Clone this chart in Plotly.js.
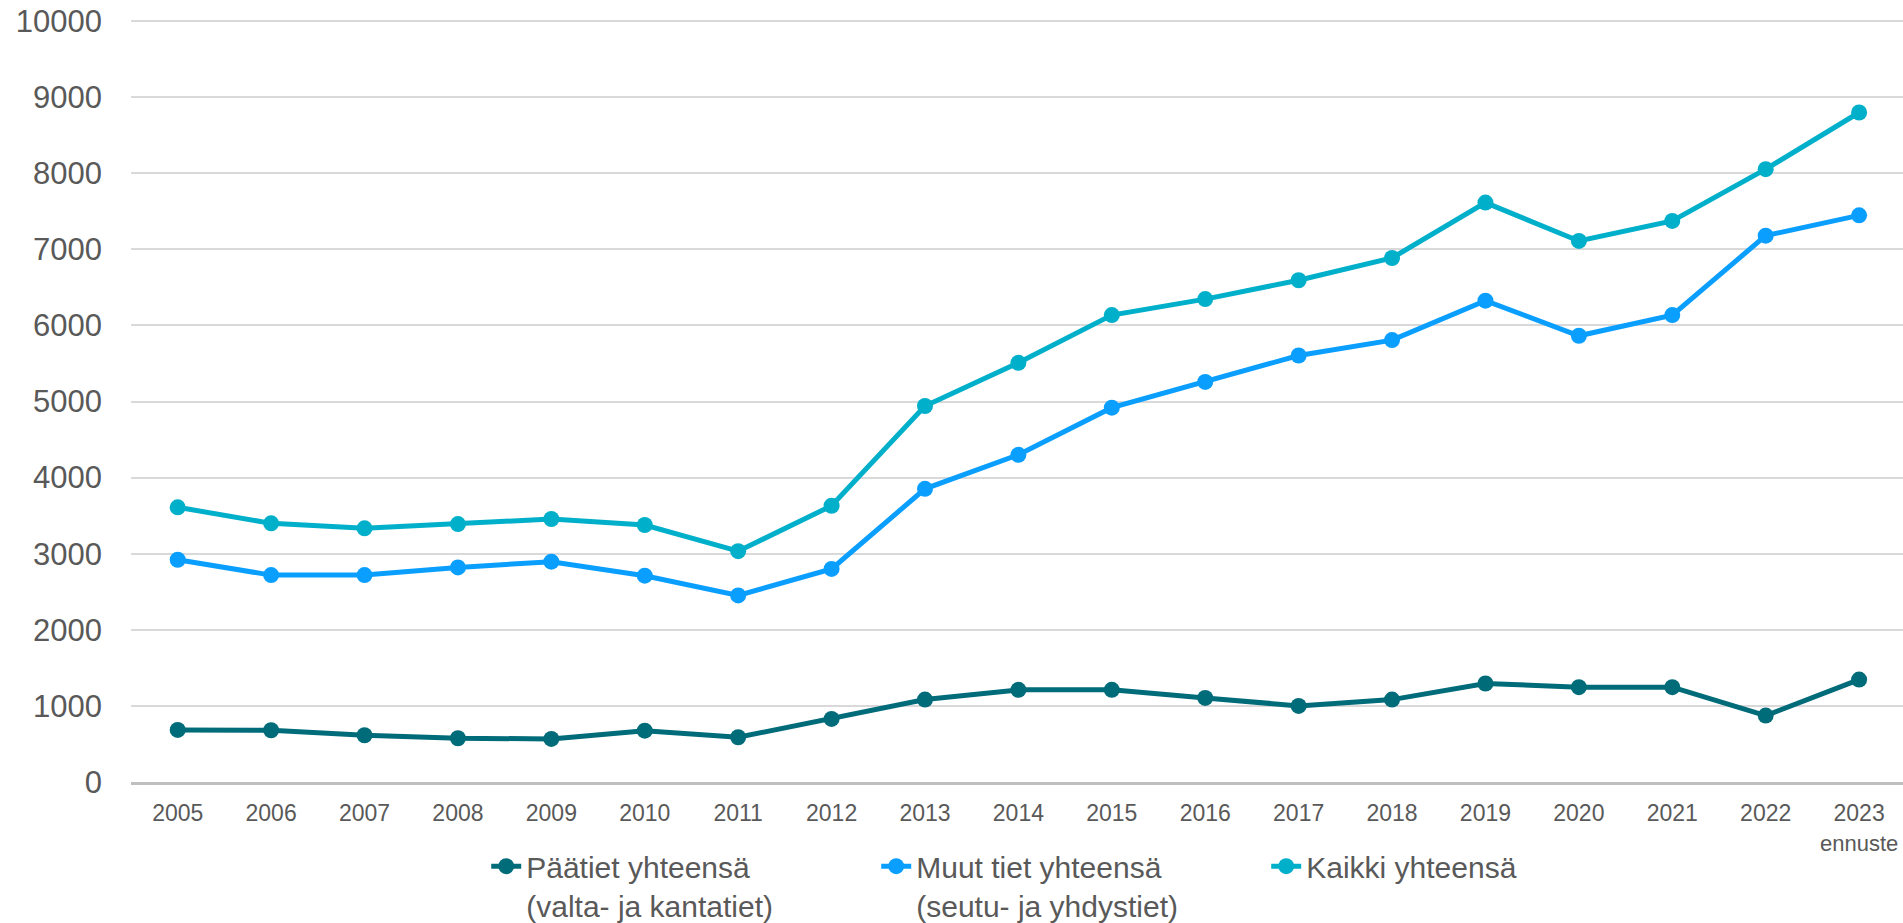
<!DOCTYPE html>
<html>
<head>
<meta charset="utf-8">
<script src="https://cdn.plot.ly/plotly-3.0.1.min.js"></script>
<style>
html,body{margin:0;padding:0;background:#fff;}
#chart{width:1903px;height:923px;}
</style>
</head>
<body>
<div id="chart"></div>
<script>
const years = ["2005","2006","2007","2008","2009","2010","2011","2012","2013","2014","2015","2016","2017","2018","2019","2020","2021","2022","2023"];
const yearLabels = ["2005","2006","2007","2008","2009","2010","2011","2012","2013","2014","2015","2016","2017","2018","2019","2020","2021","2022","2023<br><span style='font-size:22px'>ennuste</span>"];
const paatiet = [684, 680, 614, 575, 566, 675, 588, 829, 1083, 1211, 1211, 1105, 1000, 1083, 1294, 1246, 1246, 873, 1346];
const muut = [2921, 2719, 2719, 2820, 2895, 2711, 2452, 2800, 3853, 4300, 4919, 5258, 5605, 5807, 6325, 5864, 6136, 7180, 7447];
const kaikki = [3610, 3399, 3333, 3390, 3456, 3377, 3033, 3630, 4941, 5509, 6136, 6346, 6594, 6886, 7614, 7110, 7373, 8053, 8798];
const seriesNames = ["Päätiet yhteensä<br>(valta- ja kantatiet)", "Muut tiet yhteensä<br>(seutu- ja yhdystiet)", "Kaikki yhteensä"];
const colors = ["#006B79", "#0A9FFF", "#00AFC9"];

const FONT = "Liberation Sans, Arial, sans-serif";
function tr(y, i) {
  return {
    x: years, y: y, name: seriesNames[i], type: "scatter", mode: "lines+markers",
    line: {color: colors[i], width: 5},
    marker: {color: colors[i], size: 16},
    cliponaxis: false
  };
}
const data = [tr(paatiet,0), tr(muut,1), tr(kaikki,2)];
const layout = {
  width: 1903, height: 923,
  margin: {l: 131, r: 0, t: 18, b: 141},
  paper_bgcolor: "#fff", plot_bgcolor: "#fff",
  font: {family: FONT, color: "#595959"},
  showlegend: true,
  legend: {
    orientation: "h", xref: "container", yref: "container",
    x: 0.2555, xanchor: "left", y: 0.0897, yanchor: "top",
    valign: "top",
    font: {family: FONT, size: 30, color: "#595959"},
    entrywidth: 345, entrywidthmode: "pixels",
    bgcolor: "rgba(0,0,0,0)", traceorder: "normal"
  },
  xaxis: {
    type: "category", range: [-0.5, 18.47],
    tickvals: years, ticktext: yearLabels,
    tickfont: {family: FONT, size: 23, color: "#595959"},
    showgrid: false, showline: true, linecolor: "#BFBFBF", linewidth: 3,
    ticks: "", ticklabelstandoff: 8, fixedrange: true
  },
  yaxis: {
    range: [0, 10040], dtick: 1000, tick0: 0, tickformat: "d",
    tickfont: {family: FONT, size: 31, color: "#595959"},
    gridcolor: "#D9D9D9", gridwidth: 2, zeroline: false,
    ticks: "", ticklabelstandoff: 28, showline: false, fixedrange: true
  }
};
Plotly.newPlot("chart", data, layout, {displayModeBar: false, staticPlot: true});
</script>
</body>
</html>
